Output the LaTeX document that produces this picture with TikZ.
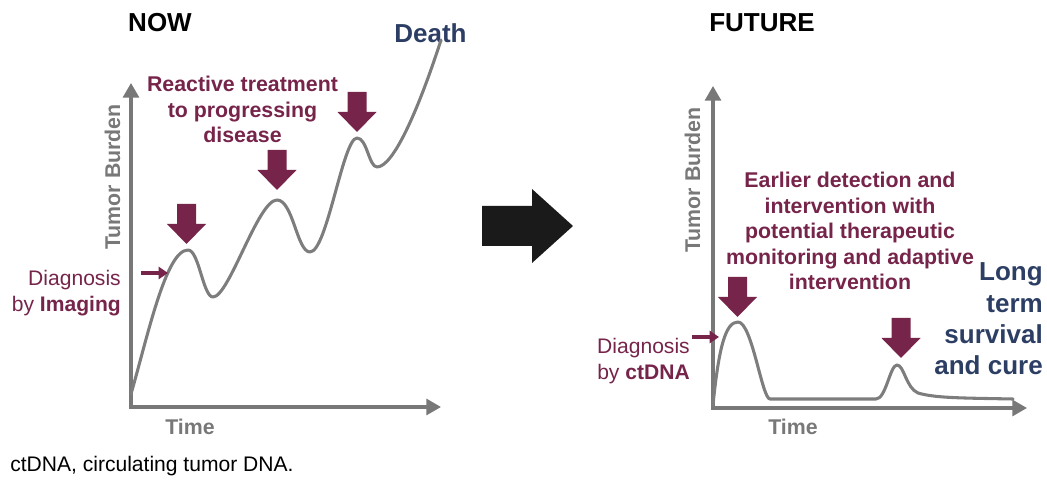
\documentclass[tikz,border=0pt]{standalone}
\usepackage{fontspec}
\setmainfont{Liberation Sans}
\usetikzlibrary{arrows.meta}
\definecolor{maroon}{RGB}{118,36,74}
\definecolor{navy}{RGB}{44,62,99}
\definecolor{axisgray}{RGB}{120,120,120}
\definecolor{curvegray}{RGB}{125,125,125}
\definecolor{bigblack}{RGB}{26,26,26}
\begin{document}
\begin{tikzpicture}[x=0.75pt,y=-0.75pt,
  axis/.style={draw=axisgray, line width=2.3pt, {Triangle[length=11pt,width=12pt]}-{Triangle[length=11pt,width=12pt]}},
  curve/.style={draw=curvegray, line width=2.3pt, line join=round, line cap=round},
  hint/.style={draw=maroon, line width=2.5pt, -{Triangle[length=7pt,width=9pt]}},
  title/.style={font=\fontsize{19.5}{23}\selectfont\bfseries, inner sep=0, anchor=base},
  endlabel/.style={font=\fontsize{19.5}{23.6}\selectfont\bfseries, text=navy, inner sep=0},
  treat/.style={font=\fontsize{16}{19.2}\selectfont\bfseries, text=maroon, inner sep=0, align=center},
  diag/.style={font=\fontsize{15.8}{19.5}\selectfont, text=maroon, inner sep=0, align=right},
  axlabel/.style={font=\fontsize{16}{19}\selectfont\bfseries, text=axisgray, inner sep=0, anchor=base},
  foot/.style={font=\fontsize{15.8}{19}\selectfont, inner sep=0, anchor=base west},
  fatdown/.pic={\fill[maroon] (-9.5,0) -- (9.5,0) -- (9.5,20) -- (19.5,20) -- (0,40) -- (-19.5,20) -- (-9.5,20) -- cycle;}
]
\useasboundingbox (0,0) rectangle (1047,484);

% ---------- titles ----------
\node[title] (now) at (160,32) {NOW};
\node[title] (future) at (762,32) {FUTURE};
\node[title, text=navy] (death) at (430.5,43) {Death};

% ---------- left chart ----------
\coordinate (Ltop) at (131,83);
\coordinate (Lo) at (131,407);
\coordinate (Lend) at (441,407);
\draw[axis] (Ltop) -- (Lo) -- (Lend);
\draw[curve] (131,394) .. controls (148,335) and (166,250) .. (188,250)
  .. controls (199,250) and (203,297) .. (213,297)
  .. controls (229,297) and (258,200) .. (277,200)
  .. controls (293,200) and (297,252) .. (310,252)
  .. controls (327,252) and (343,138) .. (357,138)
  .. controls (367,138) and (369,167) .. (377,167)
  .. controls (394,167) and (420,105) .. (441,40);
\pic at (186.5,204) {fatdown};
\pic at (277,150) {fatdown};
\pic at (357,92) {fatdown};
\node[treat, anchor=base] (react) at (242.5,143) {Reactive treatment\\to progressing\\disease};
\coordinate (dl1) at (141,273);
\coordinate (dl2) at (168,273);
\draw[hint] (dl1) -- (dl2);
\node[diag, anchor=base east] (diagimg) at (121,312) {Diagnosis\\by \textbf{Imaging}};
\node[axlabel, rotate=90] (lburden) at (120,177) {Tumor Burden};
\node[axlabel] (ltime) at (190,435) {Time};

% ---------- big arrow ----------
\fill[bigblack] (482,206) -- (532,206) -- (532,189) -- (573,226) -- (532,263) -- (532,246) -- (482,246) -- cycle;

% ---------- right chart ----------
\coordinate (Rtop) at (713,86);
\coordinate (Ro) at (713,408);
\coordinate (Rend) at (1027,408);
\draw[axis] (Rtop) -- (Ro) -- (Rend);
\draw[curve] (713,405) .. controls (719,345) and (726,322) .. (738,322)
  .. controls (752,322) and (762,399) .. (770,399)
  -- (876,399)
  .. controls (886,399) and (890,365) .. (897,365)
  .. controls (904,365) and (906,388) .. (918,393)
  .. controls (935,398) and (960,398) .. (1013,399);
\pic at (737.5,277) {fatdown};
\pic at (901,318) {fatdown};
\node[treat, anchor=base] (early) at (850,290) {Earlier detection and\\intervention with\\potential therapeutic\\monitoring and adaptive\\intervention};
\coordinate (dr1) at (692,337);
\coordinate (dr2) at (719,337);
\draw[hint] (dr1) -- (dr2);
\node[diag, anchor=base east] (diagct) at (690,380) {Diagnosis\\by \textbf{ctDNA}};
\node[endlabel, anchor=base east, align=right] (cure) at (1043,375) {Long\\term\\survival\\and cure};
\node[axlabel, rotate=90] (rburden) at (700,180) {Tumor Burden};
\node[axlabel] (rtime) at (793,435) {Time};

% ---------- footnote ----------
\node[foot] (fn) at (10,472) {ctDNA, circulating tumor DNA.};
\end{tikzpicture}
\end{document}
